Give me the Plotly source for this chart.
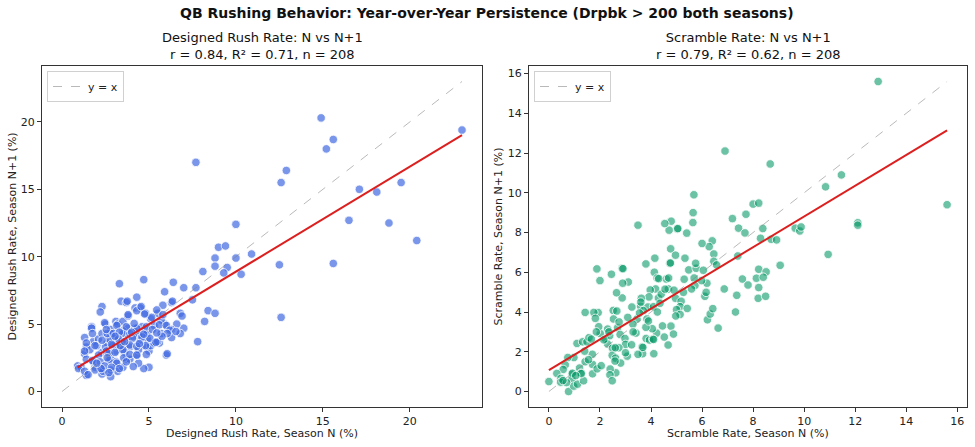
import numpy as np
import plotly.graph_objects as go

# ---------------- data ----------------
designed_n = [
    23.0, 14.9, 15.6, 15.2, 7.7, 12.9, 12.6, 17.1, 18.1, 19.5, 16.5, 18.8, 20.4, 10.0, 9.0, 9.4, 10.9, 8.8, 10.0, 12.5,
    15.6, 8.1, 8.8, 9.5, 9.3, 10.3, 3.3, 4.7, 6.4, 5.9, 7.0, 7.7, 7.5, 4.3, 3.4, 3.7, 2.3, 2.2, 4.2, 4.5,
    4.3, 5.8, 6.3, 6.8, 6.9, 8.4, 8.8, 12.6, 8.2, 7.8, 7.0, 6.8, 6.6, 6.3, 6.3, 6.0, 5.7, 5.9, 5.6, 5.1,
    4.8, 5.0, 4.7, 4.4, 4.3, 3.7, 3.2, 3.5, 2.8, 2.8, 2.3, 2.3, 1.4, 0.9, 1.1, 1.9, 1.8, 1.3, 1.3, 1.4,
    1.6, 1.7, 1.7, 1.8, 2.1, 2.3, 2.5, 2.8, 2.8, 3.1, 3.2, 3.5, 3.8, 3.8, 4.2, 3.5, 3.5, 3.0, 3.8, 3.9,
    3.4, 3.1, 2.6, 2.7, 2.3, 2.8, 3.1, 3.6, 3.9, 4.4, 4.5, 4.9, 5.0, 5.1, 5.3, 4.9, 4.8, 4.9, 5.3, 5.7,
    4.4, 4.1, 3.5, 3.1, 2.7, 2.6, 2.0, 2.5, 2.9, 3.9, 4.6, 5.5, 3.75, 4.55, 2.45, 6.35, 5.45, 5.8, 3.8, 5.15,
    4.75, 3.15, 2.55, 1.75, 2.95, 3.3, 3.7, 4.3, 4.85, 5.6, 6.0, 6.2, 6.55, 1.4, 1.9, 2.3, 2.85, 3.45, 4.05, 4.6,
    5.05, 5.5, 6.05, 1.4, 2.1, 2.55, 2.7, 3.05, 3.5, 3.9, 4.3, 4.8, 5.4, 1.3, 1.75, 2.2, 2.7, 3.15, 3.55, 3.9,
    4.3, 4.85, 6.05, 0.95, 1.3, 1.9, 2.35, 2.45, 2.85, 3.3, 3.7, 4.1, 1.5, 2.7, 2.25, 3.35, 4.0, 4.7, 5.2, 3.25,
    2.6, 3.6, 4.45, 5.75, 2.0, 3.05, 4.15, 5.45,
]
designed_n1 = [
    19.4, 20.3, 18.7, 18.0, 17.0, 16.4, 15.5, 15.0, 14.8, 15.5, 12.7, 12.5, 11.2, 12.4, 10.7, 10.8, 10.2, 9.9, 9.9, 9.4,
    9.5, 8.9, 9.3, 9.2, 8.8, 8.7, 8.0, 8.3, 8.1, 7.4, 7.7, 7.7, 6.8, 7.0, 6.7, 6.6, 6.3, 5.9, 6.2, 6.2,
    6.0, 6.4, 6.6, 5.8, 5.6, 6.0, 5.8, 5.5, 5.2, 3.7, 4.7, 4.3, 5.0, 4.6, 4.0, 2.7, 4.3, 5.0, 3.6, 5.4,
    5.8, 1.8, 1.7, 2.1, 2.7, 2.4, 1.5, 1.8, 1.1, 1.6, 1.3, 1.7, 1.2, 1.9, 1.8, 1.8, 2.2, 2.8, 4.0, 3.3,
    3.1, 4.8, 4.7, 3.7, 3.9, 4.3, 5.0, 4.6, 4.3, 5.2, 5.0, 5.2, 5.6, 4.7, 4.7, 4.5, 4.3, 3.9, 3.9, 3.3,
    3.3, 3.0, 3.6, 3.1, 2.9, 2.4, 2.2, 2.9, 2.4, 3.1, 3.8, 3.3, 3.0, 3.4, 3.6, 3.9, 4.6, 4.3, 4.9, 5.3,
    4.2, 4.1, 3.6, 3.4, 3.9, 4.3, 3.4, 3.3, 3.4, 4.3, 4.8, 5.8, 6.7, 6.3, 5.1, 6.7, 6.05, 5.7, 5.7, 5.5,
    5.75, 4.9, 4.6, 4.3, 4.3, 4.4, 4.8, 4.7, 4.8, 4.95, 4.9, 4.55, 4.45, 3.6, 3.4, 3.8, 3.5, 3.7, 3.95, 4.05,
    3.95, 3.7, 4.3, 2.4, 2.7, 3.0, 2.8, 2.9, 3.1, 3.45, 3.35, 3.4, 3.65, 3.0, 2.3, 2.2, 2.3, 2.1, 2.5, 2.75,
    2.7, 2.75, 2.8, 1.7, 1.5, 1.6, 1.5, 1.9, 1.8, 1.7, 2.2, 1.85, 1.25, 1.4, 1.7, 3.4, 4.4, 4.25, 4.6, 3.9,
    2.5, 3.7, 3.55, 4.1, 2.1, 4.1, 5.05, 4.35,
]

scramble_n = [
    12.9, 6.9, 8.67, 11.46, 10.84, 15.6, 5.68, 5.65, 5.64, 8.0, 8.22, 7.72, 7.19, 7.43, 7.68, 8.38, 8.29, 8.71, 8.92, 9.65,
    9.83, 9.88, 12.1, 12.1, 10.94, 9.06, 7.4, 8.22, 8.51, 8.13, 8.4, 7.58, 7.8, 8.22, 8.2, 8.49, 7.36, 7.31, 6.87, 6.63,
    6.21, 6.32, 6.42, 6.11, 6.16, 6.19, 5.98, 6.4, 6.28, 6.0, 6.46, 6.46, 6.57, 5.4, 5.03, 4.71, 4.79, 4.54, 3.49, 4.77,
    4.96, 4.74, 5.33, 5.48, 5.77, 5.69, 5.72, 5.59, 5.27, 4.96, 5.18, 5.14, 5.0, 5.14, 4.97, 5.42, 4.6, 4.68, 4.69, 4.15,
    3.8, 4.13, 4.24, 4.18, 4.29, 3.97, 3.92, 3.62, 3.59, 3.88, 4.1, 4.35, 4.78, 4.88, 4.67, 4.52, 4.22, 4.05, 3.8, 3.84,
    3.7, 3.45, 3.29, 3.41, 3.81, 3.94, 4.07, 3.65, 3.67, 3.49, 4.11, 3.09, 3.11, 2.87, 2.89, 2.87, 2.65, 2.45, 2.0, 1.88,
    2.52, 2.66, 2.53, 2.69, 2.79, 2.98, 3.0, 2.74, 3.07, 3.24, 2.3, 2.2, 2.38, 2.3, 2.01, 1.95, 1.86, 1.93, 1.76, 1.82,
    1.42, 2.49, 2.48, 2.61, 2.81, 2.59, 2.62, 2.4, 2.39, 2.48, 1.7, 1.71, 1.71, 1.89, 1.42, 1.4, 1.1, 1.32, 1.49, 1.57,
    1.66, 0.98, 0.74, 0.64, 0.56, 1.2, 1.25, 0.91, 0.9, 0.31, 0.47, 0.46, 0.0, 0.77, 0.97, 1.12, 1.36, 0.69, 2.9, 5.05,
    4.76, 4.3, 3.68, 4.1, 0.92, 1.27, 3.55, 3.3, 2.15, 4.45, 3.9, 2.75, 1.05, 0.55, 4.4, 4.9, 3.25, 2.35, 6.05, 5.3,
    3.0, 4.25, 2.6, 1.55, 5.75, 3.6, 2.05, 4.55,
]
scramble_n1 = [
    15.6, 12.1, 11.45, 10.9, 10.3, 9.4, 9.9, 9.0, 8.5, 9.43, 9.48, 8.92, 8.7, 8.22, 7.98, 8.2, 7.71, 7.66, 7.63, 8.22,
    8.08, 8.28, 8.49, 8.37, 6.9, 6.35, 6.82, 6.15, 6.02, 5.7, 5.75, 5.66, 5.36, 5.23, 4.69, 4.79, 4.84, 4.0, 5.16, 3.19,
    3.61, 3.9, 4.17, 4.79, 4.99, 5.45, 5.58, 7.58, 7.29, 7.45, 6.92, 6.55, 6.37, 7.97, 8.18, 8.12, 8.57, 8.45, 8.37, 7.18,
    6.86, 6.45, 6.71, 6.12, 6.2, 5.71, 5.33, 5.16, 4.99, 4.69, 4.54, 4.27, 4.12, 3.88, 3.8, 4.18, 5.66, 5.16, 5.71, 6.71,
    6.42, 6.0, 5.71, 5.16, 4.71, 5.11, 4.76, 4.69, 4.29, 4.25, 4.27, 4.44, 3.29, 2.89, 2.34, 2.74, 2.94, 3.16, 3.23, 3.65,
    4.07, 3.65, 3.39, 2.94, 2.67, 2.59, 2.64, 2.24, 1.9, 1.87, 1.9, 3.73, 5.51, 6.2, 5.45, 4.71, 4.97, 5.9, 5.58, 6.17,
    4.08, 4.05, 3.65, 3.21, 2.87, 2.67, 2.37, 2.2, 1.78, 2.35, 3.14, 2.67, 2.81, 2.39, 2.92, 3.26, 3.0, 3.97, 3.98, 3.68,
    3.98, 2.18, 1.82, 1.68, 1.43, 1.53, 0.94, 1.13, 0.84, 0.54, 1.87, 1.36, 0.89, 1.14, 1.5, 2.03, 2.42, 2.5, 2.5, 2.71,
    2.64, 1.71, 1.71, 1.34, 1.11, 1.18, 0.92, 0.87, 0.62, 0.91, 0.66, 0.47, 0.5, 0.0, 0.27, 0.37, 0.54, 0.45, 6.18, 8.2,
    6.47, 5.68, 2.22, 2.62, 0.92, 0.9, 3.95, 3.0, 2.6, 3.3, 3.55, 3.5, 0.8, 0.55, 4.9, 5.1, 4.25, 3.0, 6.1, 5.65,
    1.95, 4.0, 2.2, 1.6, 6.45, 4.5, 1.3, 5.15,
]

panel_titles = [
    "Designed Rush Rate: N vs N+1<br>r = 0.84, R² = 0.71, n = 208",
    "Scramble Rate: N vs N+1<br>r = 0.79, R² = 0.62, n = 208",
]
x_titles = ["Designed Rush Rate, Season N (%)", "Scramble Rate, Season N (%)"]
y_titles = ["Designed Rush Rate, Season N+1 (%)", "Scramble Rate, Season N+1 (%)"]
main_title = "<b>QB Rushing Behavior: Year-over-Year Persistence (Drpbk > 200 both seasons)</b>"
left_ticks = [0, 5, 10, 15, 20]
right_ticks = [0, 2, 4, 6, 8, 10, 12, 14, 16]

# ---------------- figure ----------------
W, H = 975, 447
ML, MR, MT, MB = 42, 8, 66, 40
pw = W - ML - MR
ph = H - MT - MB

def px_x(p):
    return (p - ML) / pw

def px_y(p):
    return (H - MB - p) / ph

FONT = "DejaVu Sans"
fig = go.Figure()

panels = [
    (designed_n, designed_n1, "rgba(65,105,225,0.7)", "x", "y", "legend", left_ticks),
    (scramble_n, scramble_n1, "rgba(0,150,100,0.58)", "x2", "y2", "legend2", right_ticks),
]

ranges = []
for xs, ys, col, xa, ya, lg, tks in panels:
    x = np.array(xs, dtype=float)
    y = np.array(ys, dtype=float)
    fig.add_trace(go.Scatter(
        x=x, y=y, mode="markers", xaxis=xa, yaxis=ya, showlegend=False,
        marker=dict(size=8.5, color=col, line=dict(color="white", width=0.8)),
    ))
    m = float(max(x.max(), y.max()))
    fig.add_trace(go.Scatter(
        x=[0, m], y=[0, m], mode="lines", xaxis=xa, yaxis=ya, name="y = x",
        legend=lg, line=dict(color="rgba(128,128,128,0.55)", width=1, dash="dash"),
    ))
    slope, intercept = np.polyfit(x, y, 1)
    lx = np.array([x.min(), x.max()])
    fig.add_trace(go.Scatter(
        x=lx, y=slope * lx + intercept, mode="lines", xaxis=xa, yaxis=ya,
        showlegend=False, line=dict(color="#dc1f1f", width=2),
    ))
    ranges.append([-0.05 * m, 1.05 * m])

axis_common = dict(
    showgrid=False, zeroline=False, showline=True, linecolor="#333", linewidth=1,
    mirror=True, ticks="outside", ticklen=4, tickcolor="#333",
    tickfont=dict(family=FONT, size=11, color="#222"),
)

legend_common = dict(
    xanchor="left", yanchor="top", bgcolor="rgba(255,255,255,0.85)",
    bordercolor="#d0d0d0", borderwidth=1, itemwidth=30, tracegroupgap=0,
    font=dict(family=FONT, size=11, color="#222"),
)

d1 = [0, px_x(482)]
d2 = [px_x(529), 1]
fig.update_layout(
    width=W, height=H,
    margin=dict(l=ML, r=MR, t=MT, b=MB),
    plot_bgcolor="white", paper_bgcolor="white",
    font=dict(family=FONT, size=11, color="#222"),
    xaxis=dict(domain=d1, range=ranges[0], tickvals=left_ticks, anchor="y", **axis_common),
    yaxis=dict(domain=[0, 1], range=ranges[0], tickvals=left_ticks, anchor="x", **axis_common),
    xaxis2=dict(domain=d2, range=ranges[1], tickvals=right_ticks, anchor="y2", **axis_common),
    yaxis2=dict(domain=[0, 1], range=ranges[1], tickvals=right_ticks, anchor="x2", **axis_common),
    legend=dict(x=px_x(47), y=px_y(71), **legend_common),
    legend2=dict(x=px_x(534), y=px_y(71), **legend_common),
)

ann = []
ann.append(dict(text=main_title, x=0.5 * (px_x(0) + px_x(W)), y=px_y(13), xref="paper", yref="paper",
                showarrow=False, xanchor="center", yanchor="middle",
                font=dict(family=FONT, size=14, color="#111")))
centers = [px_x(262), px_x(748)]
for i in range(2):
    ann.append(dict(text=panel_titles[i], x=centers[i], y=px_y(64), xref="paper", yref="paper",
                    showarrow=False, xanchor="center", yanchor="bottom",
                    font=dict(family=FONT, size=13, color="#111")))
    ann.append(dict(text=x_titles[i], x=centers[i], y=px_y(433), xref="paper", yref="paper",
                    showarrow=False, xanchor="center", yanchor="middle",
                    font=dict(family=FONT, size=11, color="#222")))
ytx = [px_x(12), px_x(498)]
for i in range(2):
    ann.append(dict(text=y_titles[i], x=ytx[i], y=0.5, xref="paper", yref="paper",
                    showarrow=False, xanchor="center", yanchor="middle", textangle=-90,
                    font=dict(family=FONT, size=11, color="#222")))
fig.update_layout(annotations=ann)

fig.write_html("out.html")
